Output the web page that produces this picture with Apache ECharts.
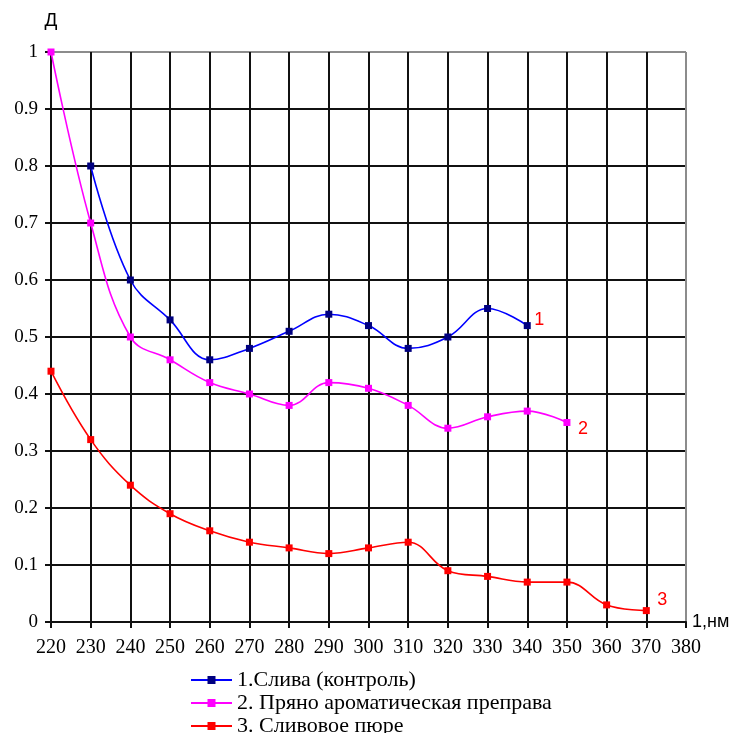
<!DOCTYPE html>
<html>
<head>
<meta charset="utf-8">
<script src="https://cdn.jsdelivr.net/npm/echarts@6/dist/echarts.min.js"></script>
<style>html,body{margin:0;padding:0;background:#fff}#c{width:740px;height:733px}</style>
</head>
<body>
<div id="c"></div>
<script>
const wavelengths = [220, 230, 240, 250, 260, 270, 280, 290, 300, 310, 320, 330, 340, 350, 360, 370];
const seriesNames = ['1.Слива (контроль)', '2. Пряно ароматическая преправа', '3. Сливовое пюре'];
const plum = [null, 0.80, 0.60, 0.53, 0.46, 0.48, 0.51, 0.54, 0.52, 0.48, 0.50, 0.55, 0.52, null, null, null];
const spice = [1.00, 0.70, 0.50, 0.46, 0.42, 0.40, 0.38, 0.42, 0.41, 0.38, 0.34, 0.36, 0.37, 0.35, null, null];
const puree = [0.44, 0.32, 0.24, 0.19, 0.16, 0.14, 0.13, 0.12, 0.13, 0.14, 0.09, 0.08, 0.07, 0.07, 0.03, 0.02];
const endTags = ['1', '2', '3'];
const xTicks = { min: 220, max: 380, step: 10 };
const yTicks = { min: 0, max: 1, step: 0.1 };

function pairs(vals) {
  const out = [];
  vals.forEach((v, i) => { if (v !== null) out.push([wavelengths[i], v]); });
  return out;
}

const lineColors = ['#0000FF', '#FF00FF', '#FF0000'];
const markerColors = ['#000080', '#FF00FF', '#FF0000'];
const endOffsets = [[-1, -6], [3, 7], [3, -11]];
const allData = [plum, spice, puree];

const nX = (xTicks.max - xTicks.min) / xTicks.step + 1;
const nY = Math.round((yTicks.max - yTicks.min) / yTicks.step) + 1;
const xSplitColors = []; for (let i = 0; i < nX; i++) xSplitColors.push(i === nX - 1 ? '#8c8c8c' : '#111');
const ySplitColors = []; for (let i = 0; i < nY; i++) ySplitColors.push(i === nY - 1 ? '#8c8c8c' : '#111');

const chart = echarts.init(document.getElementById('c'), null, { renderer: 'canvas' });
chart.setOption({
  animation: false,
  backgroundColor: '#fff',
  grid: { left: 51, right: 54, top: 52, bottom: 111, containLabel: false },
  xAxis: {
    type: 'value', min: xTicks.min, max: xTicks.max, interval: xTicks.step,
    name: '1,нм', nameLocation: 'end', nameGap: 6,
    nameTextStyle: { fontFamily: 'Liberation Sans', fontSize: 18, color: '#000', verticalAlign: 'middle' },
    axisLine: { show: true, lineStyle: { color: '#111', width: 2 } },
    axisTick: { show: true, length: 6, lineStyle: { color: '#111', width: 2 } },
    axisLabel: { fontFamily: 'Liberation Serif', fontSize: 20, color: '#000', margin: 16 },
    splitLine: { show: true, lineStyle: { color: xSplitColors, width: 2 } }
  },
  yAxis: {
    type: 'value', min: yTicks.min, max: yTicks.max, interval: yTicks.step,
    name: 'Д', nameLocation: 'end', nameGap: 22,
    nameTextStyle: { fontFamily: 'Liberation Sans', fontSize: 19, color: '#000', align: 'center' },
    axisLine: { show: true, lineStyle: { color: '#111', width: 2 } },
    axisTick: { show: true, length: 6, lineStyle: { color: '#111', width: 2 } },
    axisLabel: { fontFamily: 'Liberation Serif', fontSize: 19, color: '#000', margin: 13,
      formatter: v => String(Math.round(v * 10) / 10) },
    splitLine: { show: true, lineStyle: { color: ySplitColors, width: 2 } }
  },
  legend: {
    orient: 'vertical', left: 190, top: 669, height: 120, padding: 0, itemGap: 1, itemWidth: 41, itemHeight: 10,
    textStyle: { fontFamily: 'Liberation Serif', fontSize: 22, color: '#000', lineHeight: 18 },
    data: seriesNames
  },
  series: allData.map((vals, i) => ({
    name: seriesNames[i], type: 'line', smooth: 0.4,
    data: pairs(vals),
    symbol: 'rect', symbolSize: 7,
    lineStyle: { color: lineColors[i], width: 1.6 },
    itemStyle: { color: markerColors[i] },
    endLabel: { show: true, formatter: endTags[i], color: '#FF0000',
      fontFamily: 'Liberation Sans', fontSize: 18, offset: endOffsets[i] },
    z: 3 + i
  }))
});
</script>
</body>
</html>
